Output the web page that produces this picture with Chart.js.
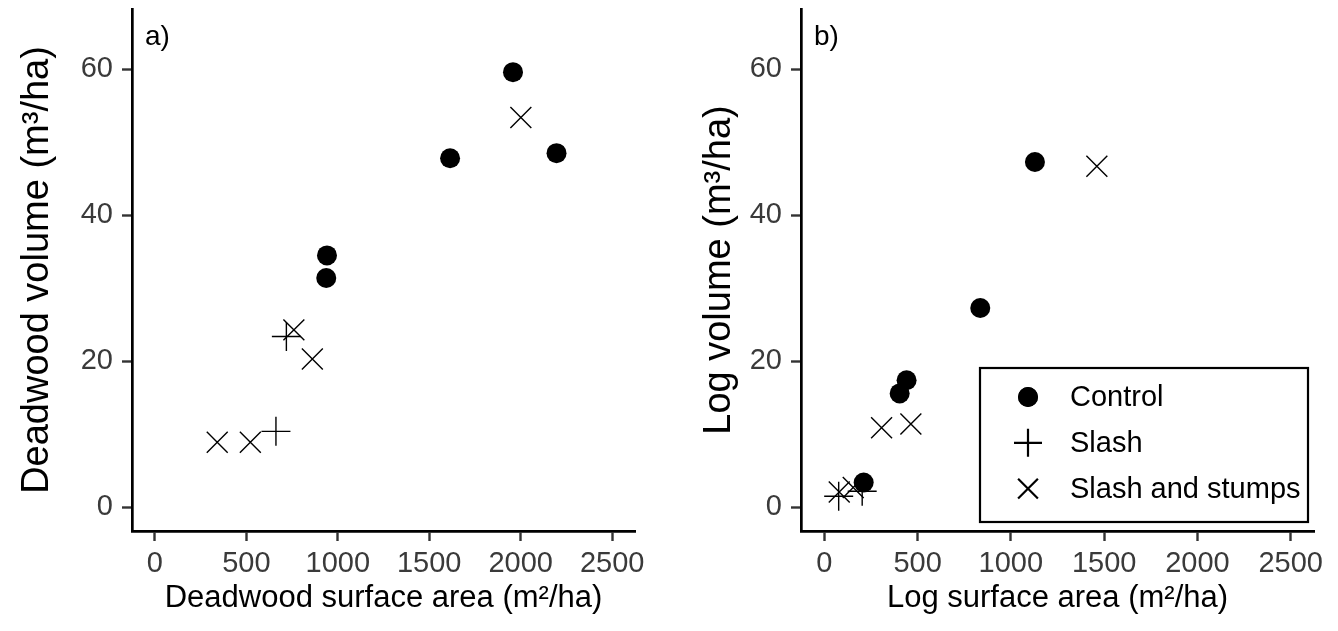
<!DOCTYPE html>
<html>
<head>
<meta charset="utf-8">
<script src="https://cdn.jsdelivr.net/npm/chart.js"></script>
<style>
  html, body { margin: 0; padding: 0; background: #fff; }
  .panel { position: absolute; top: 0; width: 669px; height: 631px; }
</style>
</head>
<body>
<div class="panel" style="left:0"><canvas id="chartA" width="669" height="631"></canvas></div>
<div class="panel" style="left:669px"><canvas id="chartB" width="669" height="631"></canvas></div>
<script>
// panel a: deadwood
const aControlX = [937, 941, 1614, 1958, 2196];
const aControlY = [31.4, 34.5, 47.8, 59.6, 48.5];
const aSlashX = [662, 719];
const aSlashY = [10.4, 23.4];
const aStumpsX = [341, 522, 760, 861, 2001];
const aStumpsY = [8.9, 8.9, 24.3, 20.3, 53.4];

// panel b: logs
const bControlX = [211, 404, 441, 836, 1129];
const bControlY = [3.4, 15.6, 17.4, 27.3, 47.3];
const bSlashX = [77, 203];
const bSlashY = [1.5, 2.2];
const bStumpsX = [80, 155, 307, 464, 1461];
const bStumpsY = [2.1, 2.7, 10.9, 11.4, 46.7];

const groups = ["Control", "Slash", "Slash and stumps"];
const xTicks = [0, 500, 1000, 1500, 2000, 2500];
const yTicks = [0, 20, 40, 60];

const FONT = "'Liberation Sans', Arial, sans-serif";
const markers = [
  { pointStyle: "circle", radius: 10, borderWidth: 0, fill: true },
  { pointStyle: "cross", radius: 14.5, borderWidth: 1.4, fill: false },
  { pointStyle: "crossRot", radius: 14.8, borderWidth: 1.4, fill: false }
];

function pts(xs, ys) {
  return xs.map((x, i) => ({ x: x, y: ys[i] }));
}

function datasets(series) {
  return series.map((s, i) => ({
    label: groups[i],
    data: pts(s[0], s[1]),
    pointStyle: markers[i].pointStyle,
    pointRadius: markers[i].radius,
    pointBorderWidth: markers[i].borderWidth,
    pointBackgroundColor: "#000",
    pointBorderColor: "#000",
    showLine: false
  }));
}

// panel letter in the top left corner
const panelTag = {
  id: "panelTag",
  afterDraw(chart, args, opts) {
    const ctx = chart.ctx, a = chart.chartArea;
    ctx.save();
    ctx.fillStyle = "#000";
    ctx.font = "28px " + FONT;
    ctx.textBaseline = "alphabetic";
    ctx.fillText(opts.text, a.left + 13, a.top + 36);
    ctx.restore();
  }
};

// boxed legend inside the plot (panel b only)
const boxLegend = {
  id: "boxLegend",
  afterDraw(chart, args, opts) {
    if (!opts.show) return;
    const ctx = chart.ctx, a = chart.chartArea;
    const w = 328, h = 154;
    const left = a.right - 6 - w, top = a.bottom - 9 - h;
    ctx.save();
    ctx.strokeStyle = "#000";
    ctx.lineWidth = 2.2;
    ctx.strokeRect(left, top, w, h);
    ctx.font = "29px " + FONT;
    ctx.textBaseline = "middle";
    chart.data.datasets.forEach((ds, i) => {
      const y = top + 29 + i * 45.8;
      const m = markers[i];
      ctx.fillStyle = "#000";
      ctx.strokeStyle = "#000";
      Chart.helpers.drawPoint(ctx, {
        pointStyle: m.pointStyle,
        radius: m.pointStyle === "circle" ? 10 : 14,
        borderWidth: m.borderWidth,
        rotation: 0
      }, left + 48, y);
      if (m.fill) ctx.fill();
      ctx.fillStyle = "#000";
      ctx.fillText(ds.label, left + 90, y + 1);
    });
    ctx.restore();
  }
};

function makeChart(id, series, xTitle, yTitle, tag, rightPad, yTitlePad, legend) {
  return new Chart(document.getElementById(id), {
    type: "scatter",
    data: { datasets: datasets(series) },
    plugins: [panelTag, boxLegend],
    options: {
      responsive: false,
      animation: false,
      layout: { autoPadding: false, padding: { left: 0, right: rightPad, top: 9, bottom: 0 } },
      plugins: {
        legend: { display: false },
        tooltip: { enabled: false },
        panelTag: { text: tag },
        boxLegend: { show: legend }
      },
      scales: {
        x: {
          type: "linear",
          min: -125,
          max: 2625,
          afterFit: s => { s.height = 100; s.paddingLeft = 0; s.paddingRight = 0; },
          afterBuildTicks: s => { s.ticks = xTicks.map(v => ({ value: v })); },
          ticks: {
            includeBounds: false,
            padding: 6,
            color: "#3a3a3a",
            font: { family: FONT, size: 29 },
            callback: v => String(v)
          },
          grid: {
            drawOnChartArea: false,
            drawTicks: true,
            tickLength: 10,
            tickWidth: 2.4,
            tickColor: "#333"
          },
          border: { display: true, color: "#000", width: 2.7 },
          title: {
            display: true,
            text: xTitle,
            color: "#000",
            font: { family: FONT, size: 31 },
            padding: { top: 0, bottom: 14 }
          }
        },
        y: {
          type: "linear",
          min: -3.25,
          max: 68.25,
          afterFit: s => { s.width = 132; s.paddingTop = 0; s.paddingBottom = 0; },
          afterBuildTicks: s => { s.ticks = yTicks.map(v => ({ value: v })); },
          ticks: {
            includeBounds: false,
            padding: 9,
            color: "#3a3a3a",
            font: { family: FONT, size: 29 },
            callback: v => String(v)
          },
          grid: {
            drawOnChartArea: false,
            drawTicks: true,
            tickLength: 10,
            tickWidth: 2.4,
            tickColor: "#333"
          },
          border: { display: true, color: "#000", width: 2.7 },
          title: {
            display: true,
            text: yTitle,
            color: "#000",
            font: { family: FONT, size: 38 },
            padding: { top: yTitlePad, bottom: 0 }
          }
        }
      }
    }
  });
}

makeChart("chartA",
  [[aControlX, aControlY], [aSlashX, aSlashY], [aStumpsX, aStumpsY]],
  "Deadwood surface area (m²/ha)", "Deadwood volume (m³/ha)", "a)", 34, 15, false);

makeChart("chartB",
  [[bControlX, bControlY], [bSlashX, bSlashY], [bStumpsX, bStumpsY]],
  "Log surface area (m²/ha)", "Log volume (m³/ha)", "b)", 24, 28, true);
</script>
</body>
</html>
